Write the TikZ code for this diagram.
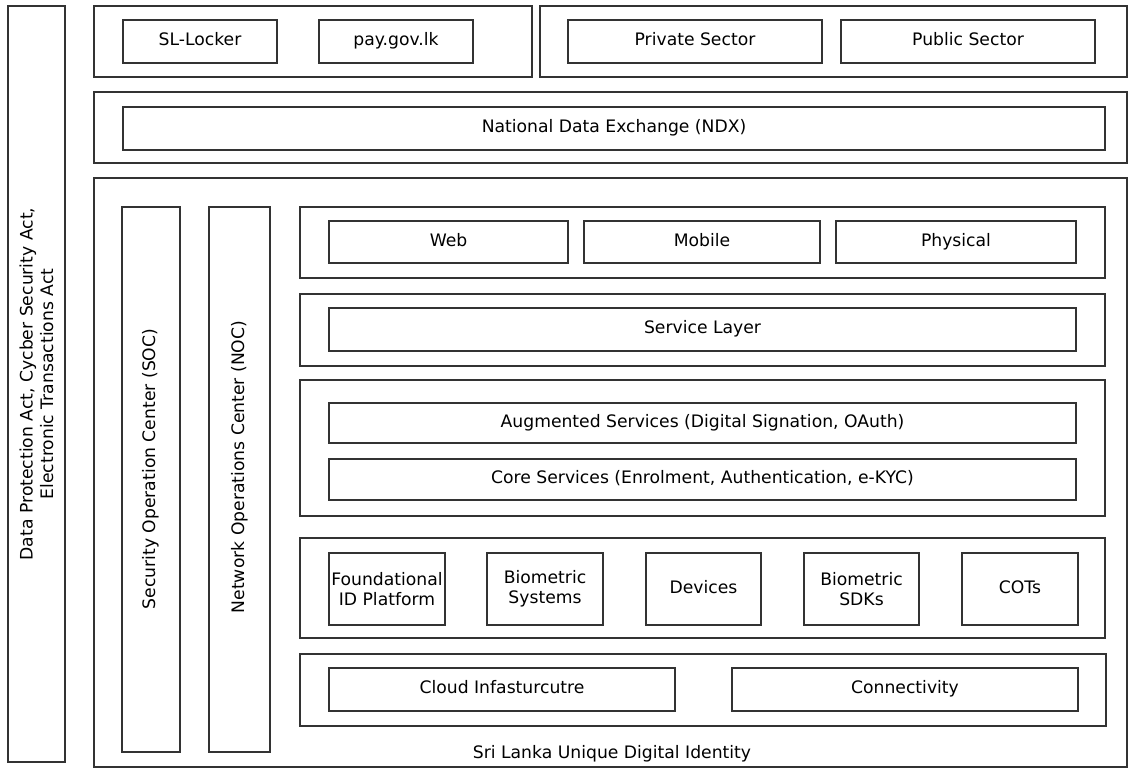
\documentclass[tikz,border=0pt]{standalone}
\usepackage{fontspec}
\setmainfont{DejaVu Sans}
\usetikzlibrary{fit}
\begin{document}
\begin{tikzpicture}[x=1pt,y=-1pt,
  box/.style={draw=black!80, line width=1.3pt, inner sep=0pt, outer sep=0pt},
  lbl/.style={inner sep=0pt, align=center, font=\fontsize{17.2}{20.5}\selectfont},
  one/.style={text height=0.82em, text depth=0em}]
\useasboundingbox[fill=white] (0,0) rectangle (1128,770);
\newcommand{\bx}[7][one]{\node[box, fit={(#3,#4) (#5,#6)}] (#2) {};
  \node[lbl,#1] (#2t) at (#2.center) {#7};}
% left law box
\bx{law}{8}{6}{65}{762}{}
\node[lbl, rotate=90] (lawt2) at (law.center) {Data Protection Act, Cycber Security Act,\\Electronic Transactions Act};
% top row
\bx{topl}{94}{6}{532}{77}{}
\bx{sll}{123}{20}{277}{63}{SL-Locker}
\bx{pay}{319}{20}{473}{63}{pay.gov.lk}
\bx{topr}{540}{6}{1127}{77}{}
\bx{priv}{568}{20}{822}{63}{Private Sector}
\bx{pub}{841}{20}{1095}{63}{Public Sector}
% NDX
\bx{ndxo}{94}{92}{1127}{163}{}
\bx{ndx}{123}{107}{1105}{150}{National Data Exchange (NDX)}
% main
\bx{main}{94}{178}{1127}{767}{}
\bx{soc}{122}{207}{180}{752}{}
\node[lbl, one, rotate=90] (soct2) at (151,469) {Security Operation Center (SOC)};
\bx{noc}{209}{207}{270}{752}{}
\node[lbl, one, rotate=90] (noct2) at (240,467) {Network Operations Center (NOC)};
% channels
\bx{cho}{300}{207}{1105}{278}{}
\bx{web}{329}{221}{568}{263}{Web}
\bx{mob}{584}{221}{820}{263}{Mobile}
\bx{phy}{836}{221}{1076}{263}{Physical}
% service layer
\bx{slo}{300}{294}{1105}{366}{}
\bx{sl}{329}{308}{1076}{351}{Service Layer}
% services
\bx{svo}{300}{380}{1105}{516}{}
\bx{aug}{329}{403}{1076}{443}{Augmented Services (Digital Signation, OAuth)}
\bx{core}{329}{459}{1076}{500}{Core Services (Enrolment, Authentication, e-KYC)}
% components
\bx{cpo}{300}{538}{1105}{638}{}
\bx[]{fid}{329}{553}{445}{625}{Foundational\\ID Platform}
\bx[]{bios}{487}{553}{603}{625}{Biometric\\Systems}
\bx{dev}{646}{553}{761}{625}{Devices}
\bx[]{sdk}{804}{553}{919}{625}{Biometric\\SDKs}
\bx{cots}{962}{553}{1078}{625}{COTs}
% infra
\bx{info}{300}{654}{1106}{726}{}
\bx{cloud}{329}{668}{675}{711}{Cloud Infasturcutre}
\bx{conn}{732}{668}{1078}{711}{Connectivity}
\node[lbl, one] (sludi) at (612,754) {Sri Lanka Unique Digital Identity};
\end{tikzpicture}
\end{document}
